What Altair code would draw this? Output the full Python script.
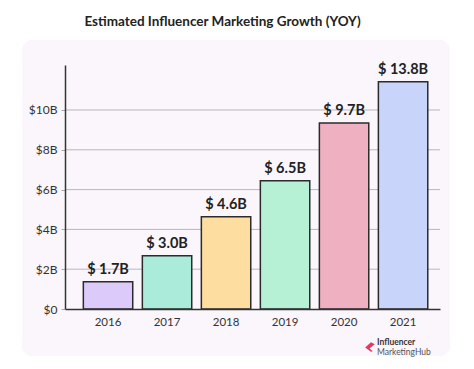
import altair as alt
import pandas as pd

years = ["2016", "2017", "2018", "2019", "2020", "2021"]
heights = [1.37, 2.68, 4.64, 6.45, 9.35, 11.42]
labels = ["$ 1.7B", "$ 3.0B", "$ 4.6B", "$ 6.5B", "$ 9.7B", "$ 13.8B"]
bar_colors = ["#dccafb", "#aaecd9", "#fedda0", "#b6f1d6", "#efb1c1", "#c9d4fb"]
grid_values = [0, 2, 4, 6, 8, 10]

FONT = "Lato"
W, H = 375, 244
YMAX = 12.26

df = pd.DataFrame({"year": years, "h": heights, "label": labels})
grid_df = pd.DataFrame({"v": grid_values[1:]})

x_scale = alt.Scale(domain=years, paddingInner=0.163, paddingOuter=0.259, align=0.6)
x_enc = alt.X("year:N", sort=years, scale=x_scale,
              axis=alt.Axis(title=None, labelAngle=0, ticks=False, labelFont=FONT,
                            labelFontSize=11.5, labelColor="#333", labelPadding=7,
                            domainColor="#333", domainWidth=1.5, zindex=1))
y_scale = alt.Scale(domain=[0, YMAX], nice=False)
y_axis = alt.Axis(title=None, values=grid_values, grid=False, labelFont=FONT,
                  labelFontSize=12, labelColor="#333", labelPadding=4,
                  tickColor="#aaa", tickSize=4, domainColor="#333", domainWidth=1.5,
                  zindex=1,
                  labelExpr="datum.value == 0 ? '$0' : '$' + datum.value + 'B'")

panel = alt.Chart(alt.Data(values=[{"a": 1}])).mark_rect(
    fill="#faf6fc", cornerRadius=10
).encode(x=alt.value(-43), x2=alt.value(385), y=alt.value(-25), y2=alt.value(291))

grid = alt.Chart(grid_df).mark_rule(color="#b8b8b8", strokeWidth=1).encode(
    y=alt.Y("v:Q", scale=y_scale, axis=y_axis)
)

bars = alt.Chart(df).mark_bar(stroke="#2b2b2b", strokeWidth=1.5).encode(
    x=x_enc,
    y=alt.Y("h:Q", scale=y_scale, axis=y_axis),
    color=alt.Color("year:N", scale=alt.Scale(domain=years, range=bar_colors), legend=None),
)

text = alt.Chart(df).mark_text(
    font=FONT, fontSize=14.5, fontWeight="bold", color="#222", dy=-8, baseline="alphabetic"
).encode(
    x=alt.X("year:N", sort=years, scale=x_scale),
    y=alt.Y("h:Q", scale=y_scale, axis=y_axis),
    text="label:N",
)

logo1 = alt.Chart(alt.Data(values=[{"a": 1}])).mark_text(
    font=FONT, fontSize=8.5, fontWeight="bold", color="#333", align="left", baseline="middle"
).encode(x=alt.value(312), y=alt.value(277), text=alt.value("Influencer"))

logo2 = alt.Chart(alt.Data(values=[{"a": 1}])).mark_text(
    font=FONT, fontSize=8.5, color="#555", align="left", baseline="middle"
).encode(x=alt.value(312), y=alt.value(287), text=alt.value("MarketingHub"))

logo_icon = alt.Chart(alt.Data(values=[{"a": 1}])).mark_point(
    shape="M-1,0.1L0.2,-1L1,-0.6L-0.1,0.3L0.6,0.9L0.2,1Z", filled=True,
    fill="#e8365d", opacity=1, size=90, strokeWidth=0
).encode(x=alt.value(305), y=alt.value(282))

chart = alt.layer(panel, grid, bars, text, logo_icon, logo1, logo2).properties(
    width=W, height=H,
    autosize=alt.AutoSizeParams(type="none"),
    padding={"left": 57, "top": 57, "right": 26, "bottom": 52},
    title=alt.TitleParams("Estimated Influencer Marketing Growth (YOY)", font=FONT,
                          fontSize=13.5, fontWeight="bold", color="#222", anchor="middle",
                          frame="group", dx=-30, offset=12),
).configure_view(stroke=None).configure(background="white")

chart.save("out.html", embed_options={"renderer": "svg", "actions": False})
